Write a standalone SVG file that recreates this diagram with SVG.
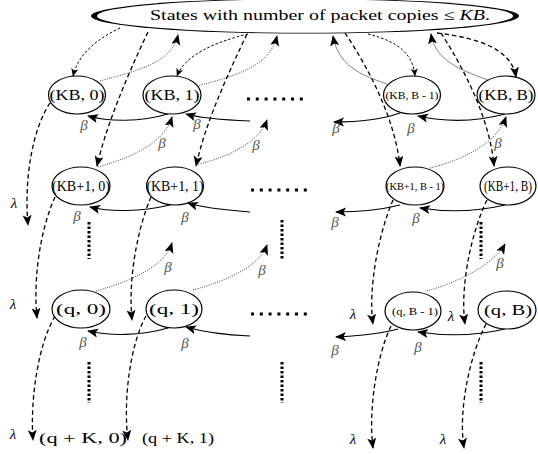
<svg xmlns="http://www.w3.org/2000/svg" width="538" height="454" viewBox="0 0 538 454">
<defs>
<marker id="ah" markerUnits="userSpaceOnUse" markerWidth="12" markerHeight="10" refX="10" refY="4.5" orient="auto">
<path d="M0,0 L11,4.5 L0,9 L2.5,4.5 z" fill="#000"/>
</marker>
<marker id="as" markerUnits="userSpaceOnUse" markerWidth="9" markerHeight="8" refX="7.5" refY="3.5" orient="auto">
<path d="M0,0 L8,3.5 L0,7 L2,3.5 z" fill="#000"/>
</marker>
</defs>
<style>
.node{fill:#fff;stroke:#000;stroke-width:1.2}
.lab{font-family:"Liberation Serif","DejaVu Serif",serif;font-size:15px;fill:#000;text-anchor:middle}
.sm{font-size:11px}
.solid{fill:none;stroke:#000;stroke-width:1.1;marker-end:url(#ah)}
.dot{fill:none;stroke:#333;stroke-width:0.9;stroke-dasharray:1 1.3;marker-end:url(#ah)}
.thin{fill:none;stroke:#666;stroke-width:0.8;marker-end:url(#ah)}
.fd{fill:none;stroke:#000;stroke-width:1;stroke-dasharray:2.5 2;marker-end:url(#as)}
.ld{fill:none;stroke:#000;stroke-width:1.3;stroke-dasharray:4.5 3;marker-end:url(#ah)}
.beta{font-family:"Liberation Serif","DejaVu Serif",serif;font-style:italic;font-size:15px;fill:#555;text-anchor:middle}
.lam{font-family:"Liberation Serif","DejaVu Serif",serif;font-style:italic;font-size:15px;fill:#000;text-anchor:middle}
.hd{stroke:#000;stroke-width:3;stroke-dasharray:3 5.8}
.vd{stroke:#000;stroke-width:3;stroke-dasharray:2.5 2}
</style>

<g id="connectors">
<!-- dotted beta, row1 to top -->
<path class="dot" d="M100,81 C140,70 172,62 178,35"/>
<path class="dot" d="M197,86 C240,75 270,65 277,36"/>
<path class="thin" d="M387,84 C360,75 338,65 333,36"/>
<path class="thin" d="M488,80 C460,70 435,60 431,34"/>
<!-- dotted beta row2 to row1 -->
<path class="dot" d="M98,167 C140,155 165,140 172,117"/>
<path class="dot" d="M196,165 C235,155 260,140 267,120"/>
<path class="dot" d="M430,168 C470,158 498,140 506,117"/>
<!-- dotted beta row3 to row2 -->
<path class="dot" d="M96,291 C135,280 165,265 172,243"/>
<path class="dot" d="M193,290 C230,280 260,265 267,245"/>
<path class="dot" d="M427,291 C465,280 495,262 505,244"/>
<!-- solid beta -->
<path class="solid" d="M168,114 C140,122 110,122 88,116"/>
<path class="solid" d="M250,121 C225,120 200,118 186,114"/>
<path class="solid" d="M505,114 C475,122 445,122 418,116"/>
<path class="solid" d="M400,113 C380,120 355,122 334,122"/>
<path class="solid" d="M170,205 C140,212 110,212 90,207"/>
<path class="solid" d="M250,212 C225,210 200,207 188,203"/>
<path class="solid" d="M505,205 C475,212 445,212 420,208"/>
<path class="solid" d="M400,205 C380,210 360,212 336,212"/>
<path class="solid" d="M168,328 C140,336 110,336 88,331"/>
<path class="solid" d="M250,336 C225,335 200,331 186,327"/>
<path class="solid" d="M505,329 C475,336 445,336 418,332"/>
<path class="solid" d="M398,329 C380,334 358,336 336,337"/>
<!-- fine dashed top to row1 -->
<path class="fd" d="M120,28 C95,40 78,55 73,76"/>
<path class="fd" d="M248,34 C215,42 185,55 177,76"/>
<path class="fd" d="M368,34 C400,42 413,55 415,76"/>
<path class="ld" d="M437,33 C480,38 512,50 516,77"/>
<!-- long dashed top to row2 -->
<path class="ld" d="M148,32 C125,80 105,130 97,166"/>
<path class="ld" d="M247,34 C225,80 205,125 196,166"/>
<path class="ld" d="M345,33 C370,70 395,120 400,166"/>
<path class="ld" d="M441,33 C465,70 490,120 494,166"/>
<!-- lambda dashed -->
<path class="ld" d="M50,103 C32,130 24,180 28,225"/>
<path class="ld" d="M55,197 C40,230 33,280 37,318"/>
<path class="ld" d="M151,197 C137,230 128,280 132,320"/>
<path class="ld" d="M55,316 C38,345 30,400 33,440"/>
<path class="ld" d="M146,316 C130,345 123,400 128,440"/>
<path class="ld" d="M393,200 C378,235 368,290 373,324"/>
<path class="ld" d="M487,200 C470,235 460,290 465,324"/>
<path class="ld" d="M391,326 C377,355 368,410 373,448"/>
<path class="ld" d="M486,324 C470,355 458,410 464,448"/>
</g>

<g id="top">
<ellipse cx="305" cy="16" rx="214" ry="17.6" fill="#000"/>
<ellipse cx="305" cy="16" rx="208" ry="16.7" fill="#fff"/>
<text x="150" y="20" font-family="Liberation Serif, DejaVu Serif, serif" font-size="15" textLength="340" lengthAdjust="spacingAndGlyphs">States with number of packet copies ≤ <tspan font-style="italic">KB</tspan>.</text>
</g>

<g id="n-kb-0"><ellipse class="node" cx="77" cy="95" rx="28.5" ry="19"/><text class="lab" x="77" y="100" textLength="55" lengthAdjust="spacingAndGlyphs">(KB, 0)</text></g>
<g id="n-kb-1"><ellipse class="node" cx="172" cy="95" rx="29" ry="19"/><text class="lab" x="172" y="100" textLength="55" lengthAdjust="spacingAndGlyphs">(KB, 1)</text></g>
<g id="n-kb-b1"><ellipse class="node" cx="412" cy="95" rx="28.5" ry="19"/><text class="lab sm" x="412" y="99" textLength="53" lengthAdjust="spacingAndGlyphs">(KB, B - 1)</text></g>
<g id="n-kb-b"><ellipse class="node" cx="506" cy="95" rx="29" ry="19"/><text class="lab" x="506" y="100" textLength="55" lengthAdjust="spacingAndGlyphs">(KB, B)</text></g>

<g id="n-kb1-0"><ellipse class="node" cx="81" cy="186" rx="29" ry="19"/><text class="lab" x="81" y="191" font-size="14" textLength="58" lengthAdjust="spacingAndGlyphs">(KB+1, 0)</text></g>
<g id="n-kb1-1"><ellipse class="node" cx="175" cy="186" rx="28.5" ry="19"/><text class="lab" x="175" y="191" font-size="14" textLength="57" lengthAdjust="spacingAndGlyphs">(KB+1, 1)</text></g>
<g id="n-kb1-b1"><ellipse class="node" cx="415" cy="186" rx="29" ry="19"/><text class="lab sm" x="415" y="190" textLength="58" lengthAdjust="spacingAndGlyphs">(KB+1, B - 1)</text></g>
<g id="n-kb1-b"><ellipse class="node" cx="508" cy="186" rx="28" ry="19"/><text class="lab" x="508" y="191" font-size="13" textLength="48" lengthAdjust="spacingAndGlyphs">(KB+1, B)</text></g>

<g id="n-q-0"><ellipse class="node" cx="81" cy="309" rx="29" ry="19"/><text class="lab" x="81" y="314" textLength="50" lengthAdjust="spacingAndGlyphs">(q, 0)</text></g>
<g id="n-q-1"><ellipse class="node" cx="174" cy="309" rx="28" ry="19"/><text class="lab" x="174" y="314" textLength="50" lengthAdjust="spacingAndGlyphs">(q, 1)</text></g>
<g id="n-q-b1"><ellipse class="node" cx="413" cy="311" rx="28" ry="19"/><text class="lab sm" x="415" y="315" textLength="46" lengthAdjust="spacingAndGlyphs">(q, B - 1)</text></g>
<g id="n-q-b"><ellipse class="node" cx="507" cy="310" rx="29" ry="19"/><text class="lab" x="508" y="315" textLength="48" lengthAdjust="spacingAndGlyphs">(q, B)</text></g>

<g id="bottom-labels">
<text class="lab" x="83" y="443" textLength="88" lengthAdjust="spacingAndGlyphs">(q + K, 0)</text>
<text class="lab" x="178" y="443" textLength="72" lengthAdjust="spacingAndGlyphs">(q + K, 1)</text>
</g>

<g id="ellipsis">
<line class="hd" x1="247" y1="99" x2="303" y2="99"/>
<line class="hd" x1="251" y1="190" x2="307" y2="190"/>
<line class="hd" x1="251" y1="314" x2="307" y2="314"/>
<line class="vd" x1="89" y1="222" x2="89" y2="259"/>
<line class="vd" x1="282" y1="220" x2="282" y2="260"/>
<line class="vd" x1="481" y1="222" x2="481" y2="259"/>
<line class="vd" x1="89" y1="362" x2="89" y2="403"/>
<line class="vd" x1="282" y1="362" x2="282" y2="403"/>
<line class="vd" x1="481" y1="362" x2="481" y2="403"/>
</g>

<g id="beta-labels">
<text class="beta" x="84" y="130">β</text>
<text class="beta" x="197" y="129">β</text>
<text class="beta" x="411" y="133">β</text>
<text class="beta" x="336" y="133">β</text>
<text class="beta" x="162" y="148">β</text>
<text class="beta" x="256" y="150">β</text>
<text class="beta" x="498" y="148">β</text>
<text class="beta" x="77" y="221">β</text>
<text class="beta" x="185" y="222">β</text>
<text class="beta" x="416" y="223">β</text>
<text class="beta" x="335" y="227">β</text>
<text class="beta" x="168" y="272">β</text>
<text class="beta" x="262" y="275">β</text>
<text class="beta" x="500" y="268">β</text>
<text class="beta" x="83" y="347">β</text>
<text class="beta" x="185" y="348">β</text>
<text class="beta" x="418" y="352">β</text>
<text class="beta" x="335" y="355">β</text>
</g>

<g id="lambda-labels">
<text class="lam" x="14" y="208">λ</text>
<text class="lam" x="13" y="309">λ</text>
<text class="lam" x="13" y="439">λ</text>
<text class="lam" x="353" y="319">λ</text>
<text class="lam" x="451" y="321">λ</text>
<text class="lam" x="353" y="444">λ</text>
<text class="lam" x="443" y="444">λ</text>
</g>
</svg>
